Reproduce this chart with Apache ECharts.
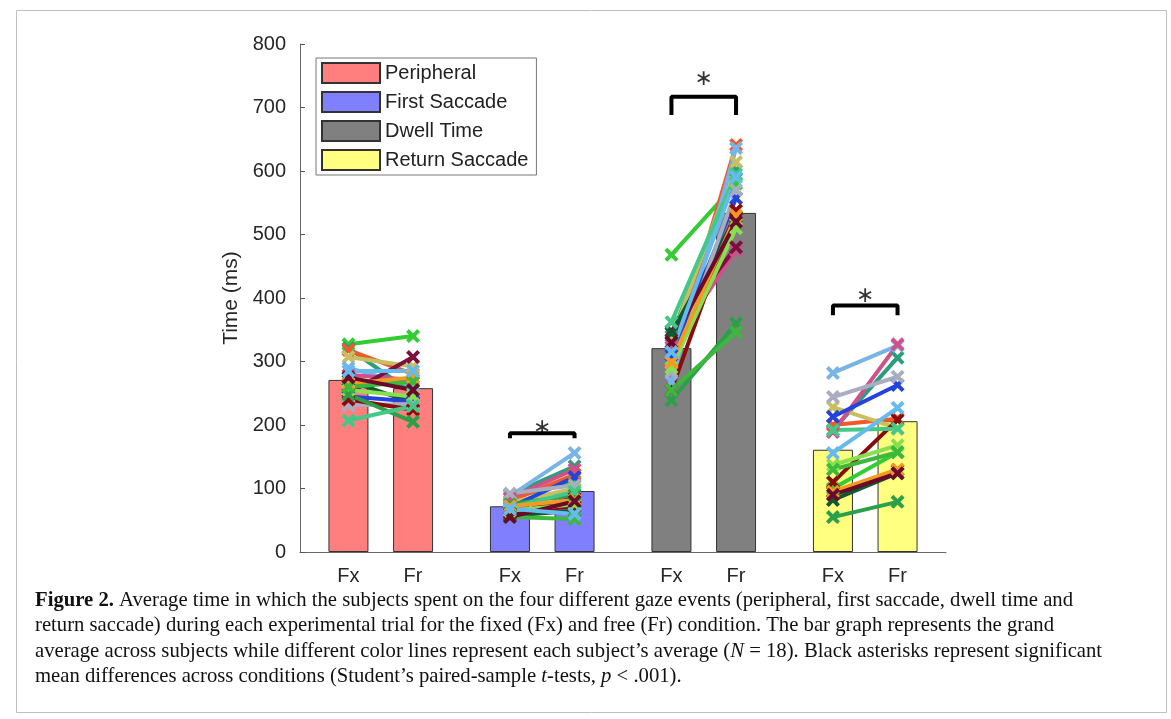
<!DOCTYPE html>
<html>
<head>
<meta charset="utf-8">
<script src="https://cdn.jsdelivr.net/npm/echarts@6/dist/echarts.min.js"></script>
<style>
  html, body { margin: 0; padding: 0; background: #fff; }
  #main { width: 1171px; height: 719px; }
</style>
</head>
<body>
<div id="main"></div>
<script>
// event groups and bar means (ms)
var events = ['Peripheral', 'First Saccade', 'Dwell Time', 'Return Saccade'];
var eventColors = ['#ff7f7f', '#8080ff', '#808080', '#ffff80'];
var fxPos = [1, 3.5, 6, 8.5];
var frPos = [2, 4.5, 7, 9.5];
var barFx = [271, 72, 321, 161];
var barFr = [258, 96, 534, 206];
var xTicks = [1, 2, 3.5, 4.5, 6, 7, 8.5, 9.5];
var xLabels = ['Fx', 'Fr', 'Fx', 'Fr', 'Fx', 'Fr', 'Fx', 'Fr'];

// one colour per subject (N = 18)
var subjColors = ['#33cc33', '#2e9c7e', '#f05a28', '#c8c060', '#78b4e6', '#d0508a',
  '#7a1040', '#0b5a30', '#2244dd', '#a8aec0', '#8b0a0a', '#88e050',
  '#2ca048', '#44c888', '#f59a20', '#3cb83c', '#6a0a2a', '#66bbee'];

// subject averages, Fx then Fr, per event
var periFx = [327, 321, 318, 307, 290, 279, 250, 270, 245, 231, 240, 255, 248, 207, 265, 260, 275, 285];
var periFr = [340, 250, 280, 292, 262, 271, 307, 235, 237, 233, 224, 245, 205, 230, 275, 268, 255, 285];
var firstFx = [84, 90, 80, 78, 88, 85, 60, 57, 70, 92, 62, 65, 75, 70, 72, 55, 55, 68];
var firstFr = [112, 135, 122, 100, 156, 130, 85, 65, 118, 105, 72, 75, 90, 95, 82, 52, 80, 60];
var dwellFx = [468, 340, 300, 334, 268, 323, 348, 345, 310, 284, 255, 290, 239, 362, 299, 255, 330, 315];
var dwellFr = [580, 601, 641, 614, 636, 475, 480, 528, 557, 570, 538, 510, 360, 595, 530, 346, 520, 590];
var retFx = [100, 192, 200, 228, 282, 189, 94, 82, 213, 244, 110, 137, 55, 192, 95, 130, 90, 156];
var retFr = [157, 306, 210, 195, 325, 327, 129, 124, 263, 276, 208, 168, 79, 194, 130, 157, 124, 227];

// significance brackets: [x1, x2, top, end]
var brackets = [[3.5, 4.5, 187, 179], [6, 7, 717, 688], [8.5, 9.5, 388, 373]];
var starY = [195, 744, 403];

var subjFx = [periFx, firstFx, dwellFx, retFx];
var subjFr = [periFr, firstFr, dwellFr, retFr];

var xMark = 'path://M2,0 L5,3 L8,0 L10,2 L7,5 L10,8 L8,10 L5,7 L2,10 L0,8 L3,5 L0,2 Z';
var font = 'Liberation Sans, Arial, sans-serif';

var series = [];
for (var e = 0; e < events.length; e++) {
  series.push({
    name: events[e],
    type: 'bar',
    barWidth: 40,
    barGap: '-100%',
    itemStyle: { color: eventColors[e], borderColor: '#333', borderWidth: 1 },
    data: [[fxPos[e], barFx[e]], [frPos[e], barFr[e]]],
    z: 2
  });
}

for (var e = 0; e < events.length; e++) {
  for (var s = 0; s < subjColors.length; s++) {
    series.push({
      type: 'line',
      symbol: xMark,
      symbolSize: 14,
      showSymbol: true,
      color: subjColors[s],
      lineStyle: { width: 4, color: subjColors[s] },
      itemStyle: { color: subjColors[s] },
      data: [[fxPos[e], subjFx[e][s]], [frPos[e], subjFr[e][s]]],
      z: 3,
      silent: true
    });
  }
}

for (var b = 0; b < brackets.length; b++) {
  var br = brackets[b];
  series.push({
    type: 'line',
    symbol: 'none',
    lineStyle: { width: 4, color: '#000' },
    data: [[br[0], br[3]], [br[0], br[2]], [br[1], br[2]], [br[1], br[3]]],
    z: 4
  });
  series.push({
    type: 'scatter',
    symbolSize: 0,
    label: { show: true, position: 'inside', formatter: '∗', fontSize: 22, color: '#000', fontFamily: 'DejaVu Sans' },
    data: [[(br[0] + br[1]) / 2, starY[b]]],
    z: 4
  });
}

var captionStyle = { fontSize: 20.7, fontFamily: 'Liberation Serif, Times New Roman, serif', fill: '#111',
  rich: { b: { fontWeight: 'bold', fontSize: 20.7, fontFamily: 'Liberation Serif' },
          i: { fontStyle: 'italic', fontSize: 20.7, fontFamily: 'Liberation Serif' } } };
var captionLines = [
  '{b|Figure 2.} Average time in which the subjects spent on the four different gaze events (peripheral, first saccade, dwell time and',
  'return saccade) during each experimental trial for the fixed (Fx) and free (Fr) condition. The bar graph represents the grand',
  'average across subjects while different color lines represent each subject’s average ({i|N} = 18). Black asterisks represent significant',
  'mean differences across conditions (Student’s paired-sample {i|t}-tests, {i|p} < .001).'
];
var graphics = [{
  type: 'rect', left: 14, top: 8, shape: { width: 1150, height: 702 },
  style: { fill: 'none', stroke: '#c0c0c0', lineWidth: 1 }, silent: true
}];
for (var l = 0; l < captionLines.length; l++) {
  graphics.push({
    type: 'text', left: 35, top: 590 + l * 25.5,
    style: Object.assign({ text: captionLines[l] }, captionStyle)
  });
}

var chart = echarts.init(document.getElementById('main'));
chart.setOption({
  animation: false,
  backgroundColor: '#fff',
  grid: { left: 300, right: 225, top: 44, bottom: 167 },
  legend: {
    data: events,
    orient: 'vertical',
    left: 316, top: 58,
    itemWidth: 58, itemHeight: 20, itemGap: 7,
    padding: [4, 8, 4, 5],
    borderColor: '#777', borderWidth: 1, backgroundColor: '#fff',
    icon: 'rect',
    textStyle: { fontSize: 20, fontFamily: font, color: '#222' }
  },
  xAxis: {
    type: 'value', min: 0.25, max: 10.25,
    splitLine: { show: false },
    axisLine: { lineStyle: { color: '#666' } },
    axisTick: { inside: true, length: 5, customValues: xTicks, lineStyle: { color: '#555' } },
    axisLabel: {
      customValues: xTicks, margin: 14, fontSize: 20, fontFamily: font, color: '#262626',
      formatter: function (v) { return xLabels[xTicks.indexOf(v)]; }
    }
  },
  yAxis: {
    type: 'value', min: 0, max: 800, interval: 100,
    name: 'Time (ms)', nameLocation: 'middle', nameGap: 46,
    nameTextStyle: { fontSize: 21, fontFamily: font, color: '#262626' },
    splitLine: { show: false },
    axisLine: { show: true, lineStyle: { color: '#666' } },
    axisTick: { show: true, inside: true, length: 5, lineStyle: { color: '#555' } },
    axisLabel: { margin: 14, fontSize: 20, fontFamily: font, color: '#262626' }
  },
  graphic: graphics,
  series: series
});
</script>
</body>
</html>
